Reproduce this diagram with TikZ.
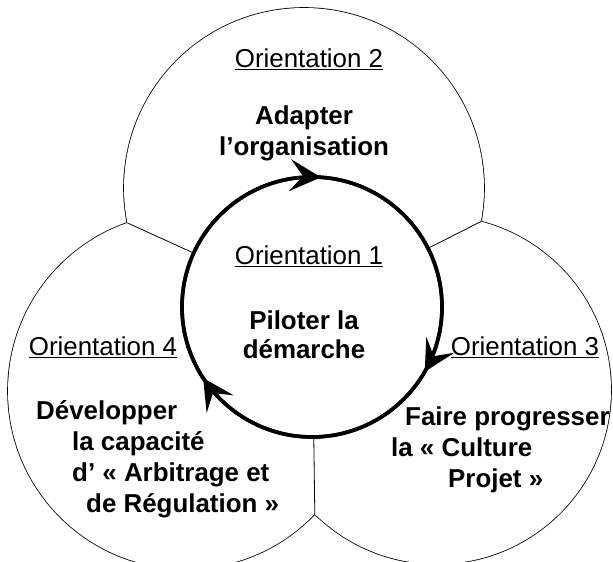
\documentclass[tikz,border=0pt]{standalone}
\usepackage{fontspec}
\setmainfont{Liberation Sans}
\usetikzlibrary{arrows.meta,decorations.markings}

\begin{document}
\begin{tikzpicture}[x=1pt, y=1pt, every node/.style={font=\fontsize{25.9}{31}\selectfont, inner sep=0pt},
  lobe/.style={line width=1.6pt},
  orient/.style={anchor=base},
  goal/.style={font=\fontsize{25.9}{31}\selectfont\bfseries},
  cycletip/.tip={Stealth[length=31pt, width=32pt, inset=13pt]},
  flow/.style={postaction={decorate}, decoration={markings,
    mark=at position 0.239 with {\arrowreversed{cycletip}},
    mark=at position 0.592 with {\arrowreversed{cycletip}},
    mark=at position 0.917 with {\arrowreversed{cycletip}}}}]
\useasboundingbox (0,0) rectangle (613,562);
% Lobes
\draw[lobe] (304,374) circle (180) (186,171) circle (178) (437,172) circle (174);
\fill[white] (304,374) circle (180) (186,171) circle (178) (437,172) circle (174);
\coordinate (jl) at (127.4,339.1);
\coordinate (jr) at (480.8,340.4);
\coordinate (jb) at (314.8,48.1);
% Centre
\node[circle, draw, line width=3.6pt, minimum size=260pt] (pilot) at (312,255) {};
\draw[line width=3.6pt, flow] (pilot.center) circle (130);
\draw[line width=0.8pt] (pilot) -- (jl) (pilot) -- (jr) (pilot) -- (jb);
% Labels
\node[orient] (o2) at (309,494) {\underline{Orientation 2}};
\node[orient] (o1) at (309,297) {\underline{Orientation 1}};
\node[orient] (o4) at (103,206) {\underline{Orientation 4}};
\node[orient] (o3) at (525,206) {\underline{Orientation 3}};
\node[goal, anchor=base] (adapt1) at (304,437) {Adapter};
\node[goal, anchor=base] (adapt2) at (304,406) {l’organisation};
\node[goal, anchor=base] (pilot1) at (304,232) {Piloter la};
\node[goal, anchor=base] (pilot2) at (304,203) {démarche};
\node[goal, anchor=base west] (dev1) at (36,142) {Développer};
\node[goal, anchor=base west] (dev2) at (72,111) {la capacité};
\node[goal, anchor=base west] (dev3) at (72,80) {d’ « Arbitrage et};
\node[goal, anchor=base west] (dev4) at (86,49) {de Régulation »};
\node[goal, anchor=base west] (prog1) at (405,136) {Faire progresser};
\node[goal, anchor=base west] (prog2) at (391,105) {la « Culture};
\node[goal, anchor=base west] (prog3) at (448,74) {Projet »};
\end{tikzpicture}
\end{document}
